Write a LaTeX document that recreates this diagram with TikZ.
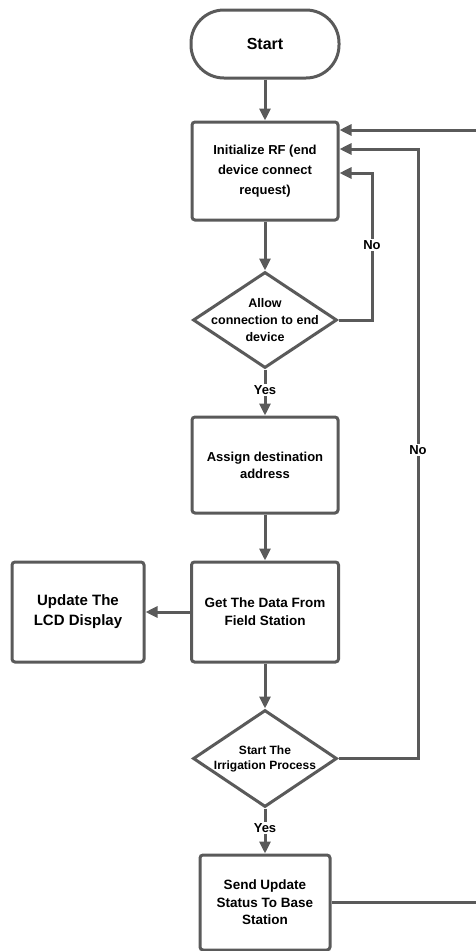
\documentclass[tikz,border=0pt]{standalone}
\usepackage{fontspec}
\setmainfont{Liberation Sans}
\usetikzlibrary{shapes.geometric,arrows.meta,calc}
\definecolor{linegray}{HTML}{5A5A5A}

\begin{document}
\begin{tikzpicture}[x=1pt,y=-1pt,
  conn/.style={draw=linegray, line width=3pt},
  flow/.style={conn, -{Triangle[length=12pt,width=11pt]}},
  box/.style={draw=linegray, line width=3pt, fill=white, rounded corners=3pt,
              inner sep=0pt, align=center},
  terminal/.style={box, rounded corners=33pt, minimum width=148pt, minimum height=68pt},
  decision/.style={diamond, draw=linegray, line width=3pt, fill=white,
                   inner sep=0pt, minimum width=144pt, minimum height=96pt},
  lbl/.style={fill=white, inner sep=1.5pt, font=\fontsize{13}{15}\selectfont\bfseries},
]
\useasboundingbox (0,0) rectangle (476,951);

% process steps (all on the central column x = 265)
\node[terminal, font=\fontsize{16}{18}\selectfont\bfseries] (start) at (265,44) {Start};

\node[box, minimum width=146pt, minimum height=98pt,
      font=\fontsize{13}{20}\selectfont\bfseries] (init) at (265,171)
  {Initialize RF (end\\device connect\\request)};

\node[decision, label={[align=center, font=\fontsize{12.5}{17}\selectfont\bfseries]center:Allow\\connection to end\\device}]
  (allow) at (265,320) {};

\node[box, minimum width=146pt, minimum height=96pt,
      font=\fontsize{13}{17}\selectfont\bfseries] (assign) at (265,465)
  {Assign destination\\address};

\node[box, minimum width=147pt, minimum height=100pt,
      font=\fontsize{13.5}{18}\selectfont\bfseries] (get) at (265,612)
  {Get The Data From\\Field Station};

\node[box, minimum width=132pt, minimum height=100pt,
      font=\fontsize{15}{20}\selectfont\bfseries] (lcd) at (78,612)
  {Update The\\LCD Display};

\node[decision, minimum height=97pt,
      label={[align=center, font=\fontsize{12}{15}\selectfont\bfseries]center:Start The\\Irrigation Process}]
  (irrig) at (265,758.5) {};

\node[box, minimum width=130pt, minimum height=95pt,
      font=\fontsize{13.5}{17.5}\selectfont\bfseries] (send) at (265,902.5)
  {Send Update\\Status To Base\\Station};

% turning points of the loop-back connectors
\coordinate (loopA) at (372,173);
\coordinate (loopB) at (418,149);
\coordinate (loopC) at (492,130);

% main flow
\draw[flow] (start) -- (init);
\draw[flow] (init) -- (allow);
\draw[flow] (allow) -- (assign);
\draw[flow] (assign) -- (get);
\draw[flow] (get) -- (lcd);
\draw[flow] (get) -- (irrig);
\draw[flow] (irrig) -- (send);

% loop-backs to the RF initialisation
\draw[flow] (allow.east) -| (loopA) -- (init.east |- loopA);
\draw[flow] (irrig.east) -| (loopB) -- (init.east |- loopB);
\draw[flow] (send.east) -| (loopC) -- (init.east |- loopC);

% branch labels
\node[lbl] at (372,245) {No};
\node[lbl] at (265,390) {Yes};
\node[lbl] at (418,450) {No};
\node[lbl] at (265,828) {Yes};
\end{tikzpicture}
\end{document}
